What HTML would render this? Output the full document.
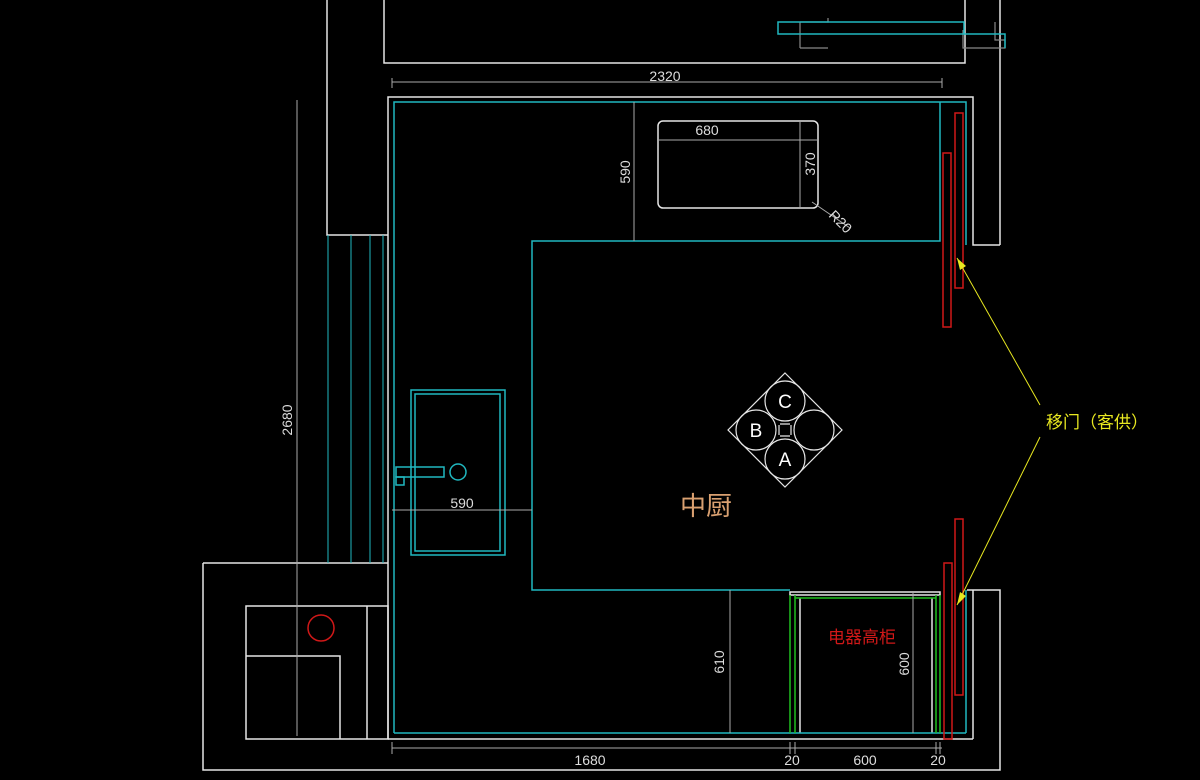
<!DOCTYPE html>
<html><head><meta charset="utf-8"><style>
html,body{margin:0;padding:0;background:#000;width:1200px;height:780px;overflow:hidden}
svg{display:block}
text{font-family:"Liberation Sans","Noto Sans CJK SC",sans-serif}
</style></head><body>
<svg width="1200" height="780" viewBox="0 0 1200 780" xmlns="http://www.w3.org/2000/svg">
<g fill="none" stroke-width="1.5">
<!-- top area -->
<g stroke="#e6e6e6">
<polyline points="327,0 327,235 388,235"/>
<polyline points="384,0 384,63 965,63 965,0"/>
<line x1="1000" y1="0" x2="1000" y2="245"/>
<polyline points="388,235 388,97 973,97 973,245 1000,245"/>
<polyline points="203,563 203,770 1000,770 1000,590 967,590"/>
<polyline points="203,563 388,563"/>
<rect x="246" y="606" width="142" height="133"/>
<line x1="367" y1="606" x2="367" y2="739"/>
<polyline points="246,656 340,656 340,739"/>
<line x1="388" y1="235" x2="388" y2="739"/>
<line x1="388" y1="739" x2="973" y2="739"/>
<line x1="973" y1="590" x2="973" y2="739"/>
<rect x="658" y="121" width="160" height="87" rx="5"/>
<rect x="790" y="592" width="150" height="3"/>
<line x1="800" y1="598" x2="800" y2="733"/>
<line x1="932" y1="598" x2="932" y2="733"/>
</g>
<g stroke="#888" stroke-width="1.2">
<path d="M800,22 L828,22 L828,18 M800,22 L800,48 M800,48 L828,48" />
<polyline points="995,22 995,40 1005,40 1005,48 963,48 963,30"/>
</g>
<g stroke="#20b8c0">
<rect x="778" y="22" width="186" height="12"/>
<polyline points="964,34 1005,34 1005,48"/>
<polyline points="394,733 394,102 966,102 966,245"/>
<polyline points="940,102 940,241 532,241 532,590 790,590"/>
<line x1="394" y1="733" x2="966" y2="733"/>
<line x1="966" y1="590" x2="966" y2="733"/>
<line x1="328" y1="235" x2="328" y2="563" stroke-width="1"/>
<line x1="351" y1="235" x2="351" y2="563" stroke-width="1"/>
<line x1="370" y1="235" x2="370" y2="563" stroke-width="1"/>
<line x1="383" y1="235" x2="383" y2="563" stroke-width="1"/>
<rect x="411" y="390" width="94" height="165"/>
<rect x="415" y="394" width="85" height="157"/>
<rect x="396" y="467" width="48" height="10"/>
<rect x="396" y="477" width="8" height="8"/>
<circle cx="458" cy="472" r="8"/>
</g>
<g stroke="#20c020">
<line x1="790" y1="595" x2="790" y2="733"/>
<line x1="795" y1="595" x2="795" y2="733"/>
<line x1="795" y1="598" x2="936" y2="598"/>
<line x1="936" y1="595" x2="936" y2="733"/>
<line x1="940" y1="595" x2="940" y2="733"/>
</g>
<g stroke="#d01818">
<circle cx="321" cy="628" r="13"/>
<rect x="955" y="113" width="8" height="175"/>
<rect x="943" y="153" width="8" height="174"/>
<rect x="955" y="519" width="8" height="176"/>
<rect x="944" y="563" width="8" height="176"/>
</g>
<!-- dims -->
<g stroke="#aaa" stroke-width="1">
<line x1="392" y1="82" x2="942" y2="82"/>
<line x1="392" y1="78" x2="392" y2="88"/><line x1="942" y1="78" x2="942" y2="88"/>
<line x1="634" y1="102" x2="634" y2="241"/>
<line x1="658" y1="140" x2="818" y2="140"/>
<line x1="800" y1="121" x2="800" y2="208"/>
<line x1="812" y1="202" x2="850" y2="228"/>
<line x1="297" y1="100" x2="297" y2="736"/>
<line x1="392" y1="510" x2="532" y2="510"/>
<line x1="392" y1="748" x2="942" y2="748"/>
<line x1="392" y1="742" x2="392" y2="754"/><line x1="790" y1="742" x2="790" y2="754"/><line x1="795" y1="742" x2="795" y2="754"/><line x1="936" y1="742" x2="936" y2="754"/><line x1="940" y1="742" x2="940" y2="754"/>
<line x1="730" y1="590" x2="730" y2="733"/>
<line x1="913" y1="592" x2="913" y2="733"/>
</g>
<!-- hob -->
<g stroke="#e6e6e6" stroke-width="1.2">
<polygon points="785,373 842,430 785,487 728,430"/>
<circle cx="785" cy="401" r="20"/>
<circle cx="756" cy="430" r="20"/>
<circle cx="814" cy="430" r="20"/>
<circle cx="785" cy="459" r="20"/>
<path d="M779,425 V435 M791,425 V435 M780,424 H790 M780,436 H790"/>
</g>
<!-- yellow leaders -->
<g stroke="#e8e820" stroke-width="1">
<line x1="1040" y1="405" x2="957" y2="258"/>
<line x1="1040" y1="437" x2="957" y2="605"/>
</g>
</g>
<polygon points="957,258 960,270 966,266" fill="#e8e820"/>
<polygon points="957,605 960,592 966,596" fill="#e8e820"/>
<g fill="#ddd" font-size="14">
<text x="665" y="81" text-anchor="middle">2320</text>
<text x="707" y="135" text-anchor="middle">680</text>
<text x="462" y="508" text-anchor="middle">590</text>
<text x="590" y="765" text-anchor="middle">1680</text>
<text x="792" y="765" text-anchor="middle">20</text>
<text x="865" y="765" text-anchor="middle">600</text>
<text x="938" y="765" text-anchor="middle">20</text>
<text transform="translate(630,172) rotate(-90)" text-anchor="middle">590</text>
<text transform="translate(815,164) rotate(-90)" text-anchor="middle">370</text>
<text transform="translate(292,420) rotate(-90)" text-anchor="middle">2680</text>
<text transform="translate(724,662) rotate(-90)" text-anchor="middle">610</text>
<text transform="translate(909,664) rotate(-90)" text-anchor="middle">600</text>
<text transform="translate(828,216) rotate(45)">R20</text>
</g>
<g fill="#fff" font-size="19" text-anchor="middle">
<text x="785" y="408">C</text>
<text x="756" y="437">B</text>
<text x="785" y="466">A</text>
</g>
<text x="706" y="515" fill="#d9a070" font-size="26" text-anchor="middle">中厨</text>
<text x="862" y="643" fill="#d01818" font-size="17" text-anchor="middle">电器高柜</text>
<text x="1046" y="428" fill="#e8e820" font-size="17">移门（客供）</text>
</svg>
</body></html>
